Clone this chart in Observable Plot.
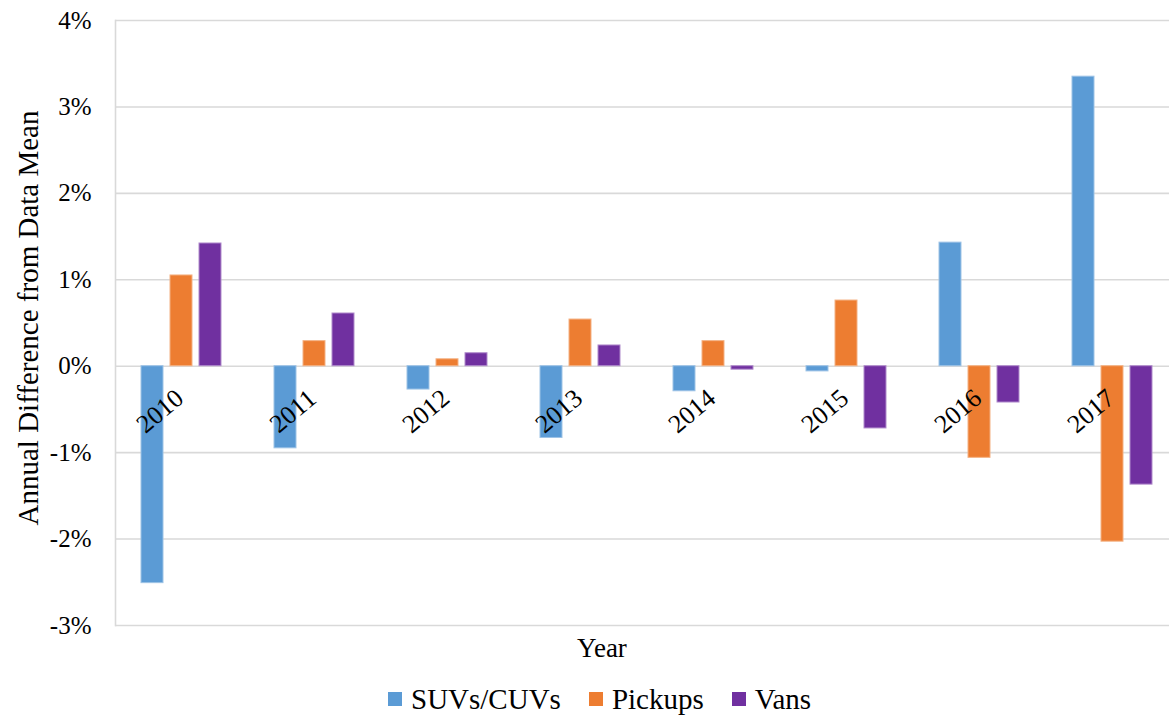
<!DOCTYPE html>
<html>
<head>
<meta charset="utf-8">
<script src="https://cdn.jsdelivr.net/npm/d3@7"></script>
<script src="https://cdn.jsdelivr.net/npm/@observablehq/plot@0.6"></script>
<style>
  html, body { margin: 0; padding: 0; background: #fff; overflow: hidden; }
  #chart { position: relative; width: 1169px; height: 717px; font-family: "Liberation Serif"; }
  #legend { position: absolute; top: 682px; left: 374px; display: flex; justify-content: flex-start; font-family: "Liberation Serif"; font-size: 29px; line-height: 34px; color: #000; white-space: nowrap; }
  .item { display: flex; align-items: center; margin: 0 14px; font-family: "Liberation Serif"; }
  .sw { width: 14px; height: 14px; margin-right: 9px; flex: none; }
</style>
</head>
<body>
<div id="chart"></div>
<script>
const years = ["2010", "2011", "2012", "2013", "2014", "2015", "2016", "2017"];
const seriesNames = ["SUVs/CUVs", "Pickups", "Vans"];
const suvs = [-2.51, -0.95, -0.27, -0.83, -0.29, -0.06, 1.43, 3.35];
const pickups = [1.05, 0.29, 0.08, 0.54, 0.29, 0.76, -1.06, -2.03];
const vans = [1.42, 0.61, 0.15, 0.24, -0.04, -0.72, -0.42, -1.37];
const yTicks = [-3, -2, -1, 0, 1, 2, 3, 4];
const colors = ["#5B9BD5", "#ED7D31", "#7030A0"];
const strokes = ["#9DC3E6", "#F4B183", "#B08BCB"];
const FONT = "Liberation Serif";

const seriesValues = [suvs, pickups, vans];
const rows = [];
years.forEach((yr, i) => {
  seriesNames.forEach((s, j) => rows.push({year: yr, series: s, value: seriesValues[j][i]}));
});

const plot = Plot.plot({
  width: 1169,
  height: 668,
  marginLeft: 112,
  marginRight: -13,
  marginTop: 20,
  marginBottom: 43,
  style: {fontFamily: FONT, background: "white", color: "#000"},
  fx: {domain: years, padding: 0, axis: null, label: null},
  x: {domain: seriesNames, paddingInner: 0.233, paddingOuter: 0.847, axis: null, label: null},
  y: {domain: [-3, 4], ticks: yTicks, label: null, tickFormat: d => d + "%"},
  color: {domain: seriesNames, range: colors},
  marks: [
    Plot.gridY(yTicks, {stroke: "#d9d9d9", strokeOpacity: 1, strokeWidth: 1.6}),
    Plot.frame({anchor: "left", facetAnchor: "left", stroke: "#d9d9d9", strokeWidth: 1.6}),
    Plot.axisY(yTicks, {tickSize: 0, tickPadding: 24, fontSize: 25, fontFamily: FONT, fontVariant: "normal", tickFormat: d => d + "%", label: null}),
    Plot.barY(rows, {fx: "year", x: "series", y: "value", fill: "series",
      stroke: d => strokes[seriesNames.indexOf(d.series)], strokeWidth: 1}),
    Plot.text(years, {fx: d => d, y: () => 0, text: d => d, rotate: -40, textAnchor: "middle",
      lineAnchor: "middle", dy: 45, dx: -22, fontSize: 26, fontFamily: FONT, fill: "#000"})
  ]
});

const svg = d3.select(plot);
svg.append("text")
  .attr("transform", "translate(38,318) rotate(-90)")
  .attr("text-anchor", "middle")
  .attr("font-family", FONT)
  .attr("font-size", 29)
  .attr("fill", "#000")
  .text("Annual Difference from Data Mean");
svg.append("text")
  .attr("x", 602).attr("y", 657)
  .attr("text-anchor", "middle")
  .attr("font-family", FONT)
  .attr("font-size", 27)
  .attr("fill", "#000")
  .text("Year");

const chart = document.getElementById("chart");
chart.appendChild(plot);
const legend = document.createElement("div");
legend.id = "legend";
seriesNames.forEach((s, j) => {
  const item = document.createElement("div");
  item.className = "item";
  const sw = document.createElement("span");
  sw.className = "sw";
  sw.style.background = colors[j];
  const t = document.createElement("span");
  t.style.fontFamily = FONT;
  t.textContent = s;
  item.appendChild(sw);
  item.appendChild(t);
  legend.appendChild(item);
});
chart.appendChild(legend);
</script>
</body>
</html>
